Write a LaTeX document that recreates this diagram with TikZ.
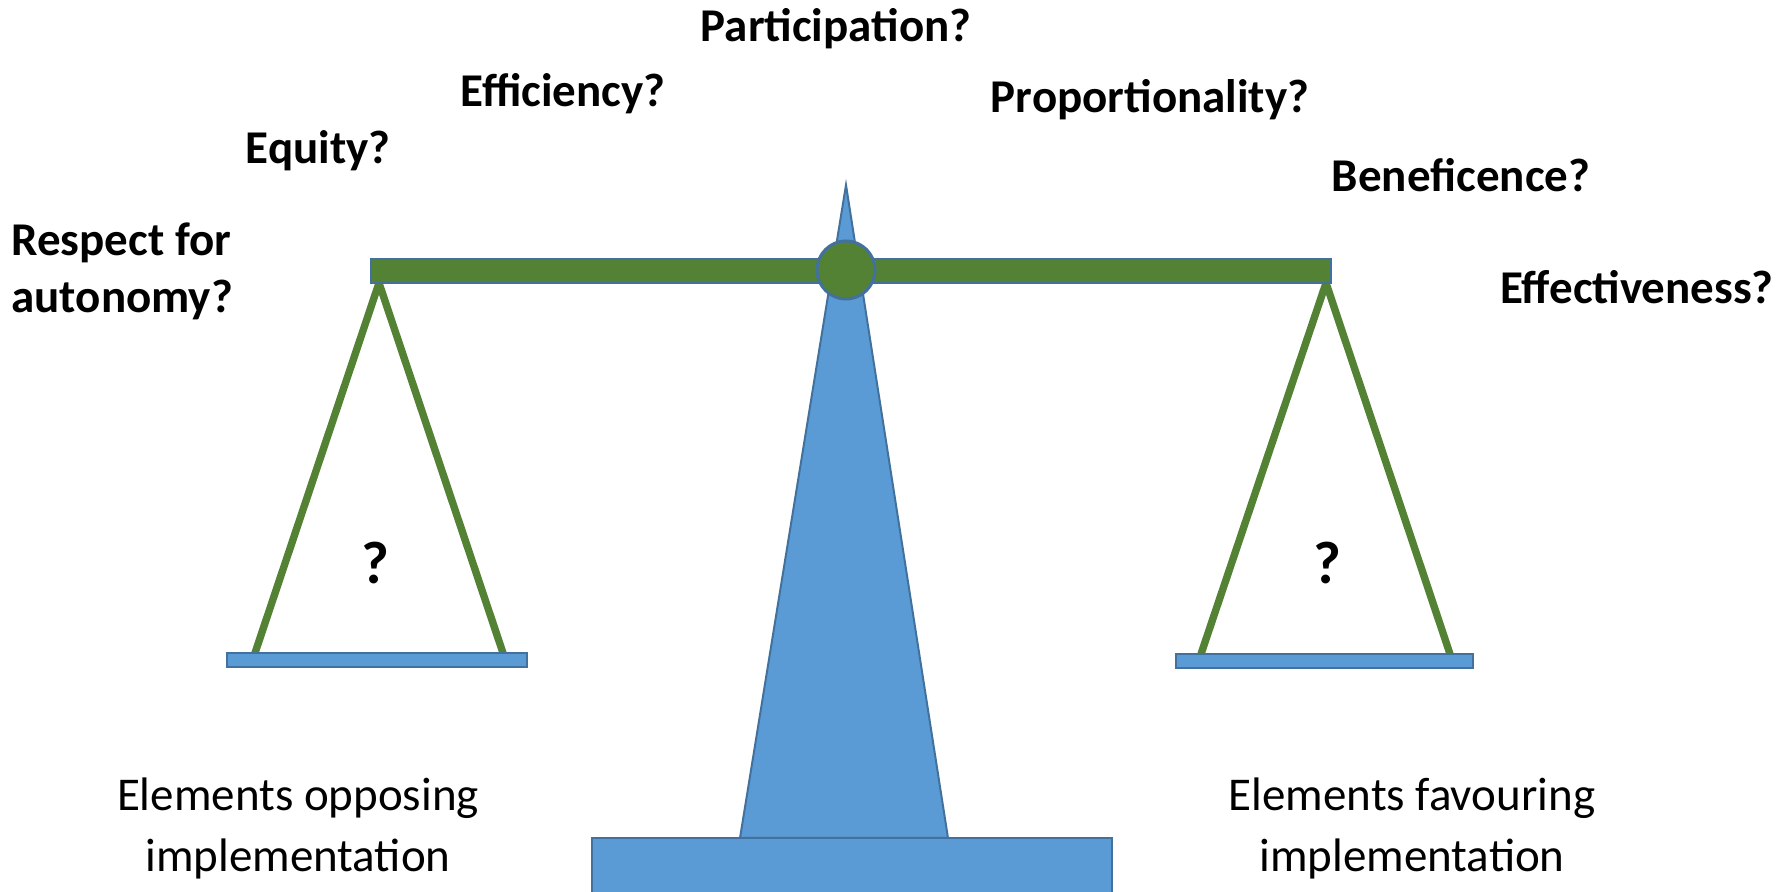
\documentclass[tikz,border=0pt]{standalone}
\usepackage{fontspec}
\setmainfont{Carlito}
\definecolor{panblue}{HTML}{5B9BD5}
\definecolor{edgeblue}{HTML}{41719C}
\definecolor{beamgreen}{HTML}{548235}

\begin{document}
\begin{tikzpicture}[x=0.5pt, y=-0.5pt,
    part/.style = {fill=panblue, draw=edgeblue, line width=1pt},
    cord/.style = {draw=beamgreen, line width=3.7pt, line join=miter},
    value/.style = {font=\fontsize{23.5}{28.5}\selectfont\bfseries, anchor=base, inner sep=0pt},
    side/.style = {font=\fontsize{23.5}{28.5}\selectfont, anchor=base, inner sep=0pt}]
    \clip (0,0) rectangle (1790,892);

    % hooks under the beam and corners of the pans
    \coordinate (lhook) at (379,283);
    \coordinate (rhook) at (1326,283);
    \coordinate (lpanL) at (255,653);
    \coordinate (lpanR) at (503,653);
    \coordinate (rpanL) at (1201,654);
    \coordinate (rpanR) at (1450,654);

    % strings
    \draw[cord] (lpanL) -- (lhook) -- (lpanR);
    \draw[cord] (rpanL) -- (rhook) -- (rpanR);

    % stand
    \draw[part] (846,185) -- (948,838) -- (740,838) -- cycle;
    \draw[part] (592,838) rectangle (1112,910);

    % beam and pivot
    \draw[fill=beamgreen, draw=edgeblue, line width=1pt] (371,259) rectangle (1331,283);
    \draw[part] (227,653) rectangle (527,667);
    \draw[part] (1176,654) rectangle (1473,668);
    \node[circle, minimum size=58pt*0.5, inner sep=0pt, fill=beamgreen, draw=edgeblue, line width=1.5pt] (pivot) at (846,270) {};

    % question marks on the pans
    \node[value, font=\fontsize{30}{36}\selectfont\bfseries] (lq) at (375,584) {?};
    \node[value, font=\fontsize{30}{36}\selectfont\bfseries] (rq) at (1327,584) {?};

    % principles
    \node[value] (part) at (836,42) {Participation?};
    \node[value] (effic) at (563,107) {Efficiency?};
    \node[value] (prop) at (1150,113) {Proportionality?};
    \node[value] (equ) at (318,164) {Equity?};
    \node[value] (benef) at (1461,192) {Beneficence?};
    \node[value, anchor=base west] (resp) at (11,256) {Respect for};
    \node[value, anchor=base west] (auto) at (11,313) {autonomy?};
    \node[value] (effec) at (1637,304) {Effectiveness?};

    % sides
    \node[side] (opp1) at (298,811) {Elements opposing};
    \node[side] (opp2) at (298,871) {implementation};
    \node[side] (fav1) at (1412,811) {Elements favouring};
    \node[side] (fav2) at (1412,871) {implementation};
\end{tikzpicture}
\end{document}
